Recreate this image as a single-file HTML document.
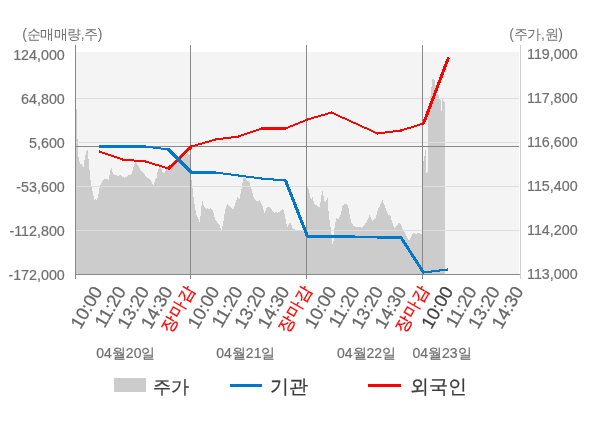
<!DOCTYPE html>
<html><head><meta charset="utf-8"><style>
html,body{margin:0;padding:0;background:#fff;width:600px;height:428px;overflow:hidden}
svg{display:block;font-family:"Liberation Sans",sans-serif;will-change:transform}
</style></head><body>
<svg width="600" height="428" viewBox="0 0 600 428">
<rect x="76" y="52" width="443" height="222" fill="#f4f4f4"/>
<path d="M76,274 L76,109 L77,109 L77.2,129 L77.8,148 L78.2,155.5 L79.6,163 L81.7,164.6 L83.5,166.7 L85.2,156 L87.3,148.5 L88.7,160.4 L90.1,177.3 L91.5,187 L92.9,192.7 L94.3,200.4 L95.7,199 L97.1,200.4 L98.5,194 L99.9,185.7 L102,182.2 L103.5,180 L104.9,178.7 L107,178.7 L108.4,180.8 L109.8,173 L111.2,167.4 L112.6,172.3 L114,174.5 L116,175.2 L118.2,175.9 L120.3,175.2 L122.4,176.6 L124.5,178 L126.6,176.6 L128.7,175.2 L130.8,175.2 L132.1,172.3 L134.2,164.6 L135.6,161.8 L137,164 L139.1,167.4 L141.2,171 L144,173 L146.1,176.6 L148.2,178 L150.3,180 L152.4,184.3 L153.8,185 L155.2,179.4 L156.6,178 L158,169.5 L159.5,167.4 L161.6,169.5 L163,173 L164.5,173 L165.8,170.2 L167.2,168 L170,166 L174,162 L178,158 L182,156 L185,155 L187,153 L189,155 L190,156 L191,175 L192.9,191.8 L194.3,203 L196.4,214.3 L198.5,218.5 L199.9,222.7 L201.3,207.3 L202.3,200.2 L203.4,205.2 L204.8,208 L206.2,208.7 L207.6,208 L209,209.4 L211.1,208 L212.5,210 L214,215 L215.3,219.9 L217.5,222.7 L219.6,224.8 L221.4,230.4 L223.1,223.4 L224.5,214.3 L225.9,207.3 L227.3,203.8 L228.7,205.2 L230.1,206.6 L232.2,209.4 L233.6,208.7 L235,204.5 L236.4,200.2 L237.8,196 L239.2,200.2 L240.6,193.2 L242,186.2 L243.4,177.8 L245.5,178.5 L247.6,181 L249.6,182 L251,187.6 L252.4,192.5 L253.8,198.2 L255.2,200.3 L257.3,201 L259.4,200.3 L260.8,202.4 L262.2,205.2 L263.6,210 L264.8,214.3 L266.2,208.7 L267.8,206.6 L269.2,206.6 L271.3,208.7 L273.5,212.2 L274.9,212.9 L276.3,211.5 L277.7,212.9 L279.8,211.5 L281.9,210 L283.3,208.7 L284.7,214.3 L286.1,222.7 L287.5,226.9 L288.9,224.1 L290.3,222 L291.7,225.5 L293,229 L296,230 L299,231.5 L301,230 L306,230 L307.5,186.8 L308.9,189.6 L310.3,198 L311.7,198.8 L312.7,196.6 L313.8,203 L315.2,204.4 L316.6,205 L318,206.5 L319.4,207.9 L320.8,200.2 L322.2,189 L323.6,196.6 L325,203.7 L326.4,200.2 L327.6,197.3 L328.5,210.7 L329.9,223.3 L331.3,232 L332.4,244 L333.4,244 L334,231.5 L335.2,222.7 L336.6,218.1 L338.4,219 L340.5,214.9 L342.6,205.8 L344.7,203.7 L346.8,204.4 L348.2,206.5 L349.6,214.9 L351,221.9 L353.1,225.4 L355.2,226.8 L357.3,226.8 L359.4,226.8 L361.4,227.9 L362.8,226.5 L364.2,225 L366.3,222.3 L367.7,219.5 L369.5,215.2 L371.2,218 L372.6,220.9 L374,219.5 L375.4,218.8 L376.8,213.8 L378.2,208.2 L379.6,206.8 L381,202.6 L382.4,199.8 L383.8,203.3 L385.2,206.8 L386.6,211 L388,214.5 L390.2,215.2 L391.6,220.2 L393,224.4 L394.4,227.9 L395.8,227.2 L397.2,225 L399.3,222.3 L400.7,224.4 L402.1,227.9 L403.5,230.7 L404.9,232.1 L406.3,236 L408.4,240 L409.5,240 L410.5,238.4 L411.9,234.9 L413.3,232.8 L414,233 L415.4,234 L416.8,233.7 L418.2,233 L420.3,233.7 L422,233.5 L423,161 L424,161 L425,152 L426,148 L426.5,173 L427.5,173 L428,118 L429,112 L430,96 L431,95 L432,79 L434.4,79 L435.5,86 L436.5,92 L437.3,94 L438.4,95 L439.6,99 L440.8,100 L441.5,111 L442,99 L443.1,100 L444.3,102 L445,103 L445.5,274 Z" fill="#cccccc" shape-rendering="crispEdges"/>
<rect x="76" y="98" width="443" height="1" fill="#dedede"/><rect x="76" y="142" width="443" height="1" fill="#dedede"/><rect x="76" y="186" width="443" height="1" fill="#dedede"/><rect x="76" y="230" width="443" height="1" fill="#dedede"/>
<rect x="76" y="146" width="443" height="1" fill="#888888"/>
<g fill="#888888">
<rect x="75" y="45" width="1" height="234"/>
<rect x="190" y="45" width="1" height="234"/>
<rect x="306" y="45" width="1" height="234"/>
<rect x="422" y="45" width="1" height="234"/>
<rect x="75" y="274" width="445" height="1"/>
</g>
<rect x="520" y="45" width="1" height="234" fill="#cfcfcf"/>
<g shape-rendering="crispEdges">
<path d="M447 57h2v1h-2zM447 58h3v1h-3zM446 59h3v1h-3zM446 60h3v1h-3zM445 61h4v1h-4zM445 62h3v1h-3zM445 63h3v1h-3zM444 64h3v1h-3zM444 65h3v1h-3zM443 66h4v1h-4zM443 67h3v1h-3zM443 68h3v1h-3zM442 69h4v1h-4zM442 70h3v1h-3zM442 71h3v1h-3zM441 72h3v1h-3zM441 73h3v1h-3zM440 74h4v1h-4zM440 75h3v1h-3zM440 76h3v1h-3zM439 77h4v1h-4zM439 78h3v1h-3zM439 79h3v1h-3zM438 80h3v1h-3zM438 81h3v1h-3zM437 82h4v1h-4zM437 83h3v1h-3zM437 84h3v1h-3zM436 85h3v1h-3zM436 86h3v1h-3zM436 87h3v1h-3zM435 88h3v1h-3zM435 89h3v1h-3zM434 90h4v1h-4zM434 91h3v1h-3zM434 92h3v1h-3zM433 93h3v1h-3zM433 94h3v1h-3zM433 95h3v1h-3zM432 96h3v1h-3zM432 97h3v1h-3zM431 98h4v1h-4zM431 99h3v1h-3zM431 100h3v1h-3zM430 101h3v1h-3zM430 102h3v1h-3zM429 103h4v1h-4zM429 104h3v1h-3zM429 105h3v1h-3zM428 106h4v1h-4zM428 107h3v1h-3zM428 108h3v1h-3zM427 109h3v1h-3zM427 110h3v1h-3zM331 111h1v1h-1zM426 111h4v1h-4zM328 112h6v1h-6zM426 112h3v1h-3zM325 113h11v1h-11zM426 113h3v1h-3zM321 114h7v1h-7zM334 114h4v1h-4zM425 114h4v1h-4zM318 115h7v1h-7zM336 115h4v1h-4zM425 115h3v1h-3zM314 116h7v1h-7zM338 116h4v1h-4zM425 116h3v1h-3zM311 117h7v1h-7zM340 117h5v1h-5zM424 117h3v1h-3zM307 118h7v1h-7zM342 118h5v1h-5zM424 118h3v1h-3zM305 119h6v1h-6zM345 119h4v1h-4zM423 119h4v1h-4zM303 120h5v1h-5zM347 120h4v1h-4zM423 120h3v1h-3zM300 121h5v1h-5zM349 121h4v1h-4zM423 121h3v1h-3zM298 122h5v1h-5zM351 122h5v1h-5zM422 122h3v1h-3zM295 123h5v1h-5zM353 123h5v1h-5zM420 123h5v1h-5zM293 124h5v1h-5zM356 124h4v1h-4zM417 124h7v1h-7zM290 125h5v1h-5zM358 125h4v1h-4zM414 125h6v1h-6zM288 126h5v1h-5zM360 126h4v1h-4zM411 126h6v1h-6zM261 127h29v1h-29zM362 127h5v1h-5zM407 127h7v1h-7zM259 128h29v1h-29zM364 128h5v1h-5zM404 128h7v1h-7zM256 129h30v1h-30zM367 129h4v1h-4zM400 129h7v1h-7zM253 130h6v1h-6zM369 130h4v1h-4zM393 130h11v1h-11zM250 131h6v1h-6zM371 131h4v1h-4zM385 131h17v1h-17zM247 132h6v1h-6zM373 132h20v1h-20zM244 133h6v1h-6zM375 133h10v1h-10zM241 134h6v1h-6zM377 134h1v1h-1zM238 135h6v1h-6zM231 136h10v1h-10zM223 137h16v1h-16zM215 138h16v1h-16zM212 139h11v1h-11zM209 140h7v1h-7zM205 141h7v1h-7zM202 142h7v1h-7zM198 143h7v1h-7zM195 144h7v1h-7zM190 145h8v1h-8zM189 146h6v1h-6zM188 147h4v1h-4zM187 148h5v1h-5zM186 149h5v1h-5zM99 150h1v1h-1zM185 150h4v1h-4zM99 151h3v1h-3zM184 151h4v1h-4zM99 152h6v1h-6zM183 152h4v1h-4zM102 153h6v1h-6zM182 153h4v1h-4zM105 154h6v1h-6zM181 154h4v1h-4zM108 155h6v1h-6zM180 155h4v1h-4zM111 156h6v1h-6zM179 156h4v1h-4zM114 157h6v1h-6zM178 157h4v1h-4zM117 158h6v1h-6zM177 158h4v1h-4zM120 159h14v1h-14zM176 159h4v1h-4zM122 160h24v1h-24zM175 160h4v1h-4zM134 161h15v1h-15zM174 161h4v1h-4zM145 162h7v1h-7zM173 162h4v1h-4zM149 163h6v1h-6zM172 163h4v1h-4zM152 164h7v1h-7zM171 164h4v1h-4zM155 165h7v1h-7zM169 165h5v1h-5zM159 166h6v1h-6zM168 166h5v1h-5zM162 167h10v1h-10zM165 168h6v1h-6zM168 169h2v1h-2z" fill="#ff0000"/>
<path d="M99 145h47v1h-47zM99 146h54v1h-54zM99 147h62v1h-62zM153 148h17v1h-17zM161 149h10v1h-10zM167 150h5v1h-5zM168 151h5v1h-5zM169 152h5v1h-5zM170 153h5v1h-5zM171 154h5v1h-5zM172 155h5v1h-5zM173 156h5v1h-5zM174 157h5v1h-5zM175 158h5v1h-5zM176 159h5v1h-5zM177 160h5v1h-5zM178 161h5v1h-5zM179 162h5v1h-5zM180 163h5v1h-5zM181 164h5v1h-5zM182 165h5v1h-5zM183 166h5v1h-5zM184 167h5v1h-5zM185 168h5v1h-5zM186 169h5v1h-5zM187 170h5v1h-5zM188 171h28v1h-28zM189 172h34v1h-34zM190 173h41v1h-41zM223 174h16v1h-16zM231 175h15v1h-15zM238 176h16v1h-16zM246 177h16v1h-16zM254 178h20v1h-20zM261 179h25v1h-25zM273 180h14v1h-14zM284 181h4v1h-4zM285 182h3v1h-3zM285 183h3v1h-3zM285 184h4v1h-4zM286 185h3v1h-3zM286 186h3v1h-3zM287 187h3v1h-3zM287 188h3v1h-3zM287 189h4v1h-4zM288 190h3v1h-3zM288 191h3v1h-3zM289 192h3v1h-3zM289 193h3v1h-3zM289 194h4v1h-4zM290 195h3v1h-3zM290 196h3v1h-3zM291 197h3v1h-3zM291 198h3v1h-3zM291 199h4v1h-4zM292 200h3v1h-3zM292 201h3v1h-3zM293 202h3v1h-3zM293 203h3v1h-3zM293 204h4v1h-4zM294 205h3v1h-3zM294 206h3v1h-3zM294 207h4v1h-4zM295 208h3v1h-3zM295 209h4v1h-4zM296 210h3v1h-3zM296 211h3v1h-3zM296 212h4v1h-4zM297 213h3v1h-3zM297 214h3v1h-3zM298 215h3v1h-3zM298 216h3v1h-3zM298 217h4v1h-4zM299 218h3v1h-3zM299 219h3v1h-3zM300 220h3v1h-3zM300 221h3v1h-3zM300 222h4v1h-4zM301 223h3v1h-3zM301 224h3v1h-3zM302 225h3v1h-3zM302 226h3v1h-3zM302 227h4v1h-4zM303 228h3v1h-3zM303 229h3v1h-3zM304 230h3v1h-3zM304 231h3v1h-3zM304 232h4v1h-4zM305 233h3v1h-3zM305 234h3v1h-3zM305 235h50v1h-50zM306 236h96v1h-96zM307 237h96v1h-96zM377 238h26v1h-26zM401 239h3v1h-3zM401 240h4v1h-4zM402 241h3v1h-3zM402 242h4v1h-4zM403 243h4v1h-4zM404 244h3v1h-3zM404 245h4v1h-4zM405 246h4v1h-4zM406 247h3v1h-3zM406 248h4v1h-4zM407 249h3v1h-3zM408 250h3v1h-3zM408 251h4v1h-4zM409 252h3v1h-3zM410 253h3v1h-3zM410 254h4v1h-4zM411 255h3v1h-3zM411 256h4v1h-4zM412 257h4v1h-4zM413 258h3v1h-3zM413 259h4v1h-4zM414 260h4v1h-4zM415 261h3v1h-3zM415 262h4v1h-4zM416 263h3v1h-3zM417 264h3v1h-3zM417 265h4v1h-4zM418 266h3v1h-3zM419 267h3v1h-3zM419 268h4v1h-4zM447 268h1v1h-1zM420 269h3v1h-3zM439 269h9v1h-9zM420 270h4v1h-4zM431 270h17v1h-17zM421 271h19v1h-19zM422 272h10v1h-10zM423 273h1v1h-1z" fill="#0077c8"/>
</g>
<g font-size="14.3" fill="#6f6f6f" stroke="#6f6f6f" stroke-width="0.2"><text transform="translate(64.8,59.6) scale(1,1.06)" text-anchor="end">124,000</text><text transform="translate(64.8,103.6) scale(1,1.06)" text-anchor="end">64,800</text><text transform="translate(64.8,147.6) scale(1,1.06)" text-anchor="end">5,600</text><text transform="translate(64.8,191.6) scale(1,1.06)" text-anchor="end">-53,600</text><text transform="translate(64.8,235.6) scale(1,1.06)" text-anchor="end">-112,800</text><text transform="translate(64.8,279.6) scale(1,1.06)" text-anchor="end">-172,000</text><text transform="translate(527,59.2) scale(1,1.06)">119,000</text><text transform="translate(527,103.2) scale(1,1.06)">117,800</text><text transform="translate(527,147.2) scale(1,1.06)">116,600</text><text transform="translate(527,191.2) scale(1,1.06)">115,400</text><text transform="translate(527,235.2) scale(1,1.06)">114,200</text><text transform="translate(527,279.2) scale(1,1.06)">113,000</text></g>
<g font-size="14" fill="#6f6f6f">
<text x="22.3" y="39" letter-spacing="-0.45">(순매매량,주)</text>
<text x="509.3" y="39" letter-spacing="-0.3">(주가,원)</text>
</g>
<g font-size="18" stroke-width="0.25" style="paint-order:normal"><text transform="translate(103.00,291) rotate(-60)" text-anchor="end" fill="#666" stroke="#666">10:00</text><text transform="translate(126.39,291) rotate(-60)" text-anchor="end" fill="#666" stroke="#666">11:20</text><text transform="translate(149.78,291) rotate(-60)" text-anchor="end" fill="#666" stroke="#666">13:20</text><text transform="translate(173.17,291) rotate(-60)" text-anchor="end" fill="#666" stroke="#666">14:30</text><text transform="translate(195.46,289.5) rotate(-60)" text-anchor="end" fill="#ff0000" stroke="#ff0000" font-size="16.5">장마감</text><text transform="translate(219.95,291) rotate(-60)" text-anchor="end" fill="#666" stroke="#666">10:00</text><text transform="translate(243.34,291) rotate(-60)" text-anchor="end" fill="#666" stroke="#666">11:20</text><text transform="translate(266.73,291) rotate(-60)" text-anchor="end" fill="#666" stroke="#666">13:20</text><text transform="translate(290.12,291) rotate(-60)" text-anchor="end" fill="#666" stroke="#666">14:30</text><text transform="translate(312.41,289.5) rotate(-60)" text-anchor="end" fill="#ff0000" stroke="#ff0000" font-size="16.5">장마감</text><text transform="translate(336.90,291) rotate(-60)" text-anchor="end" fill="#666" stroke="#666">10:00</text><text transform="translate(360.29,291) rotate(-60)" text-anchor="end" fill="#666" stroke="#666">11:20</text><text transform="translate(383.68,291) rotate(-60)" text-anchor="end" fill="#666" stroke="#666">13:20</text><text transform="translate(407.07,291) rotate(-60)" text-anchor="end" fill="#666" stroke="#666">14:30</text><text transform="translate(429.36,289.5) rotate(-60)" text-anchor="end" fill="#ff0000" stroke="#ff0000" font-size="16.5">장마감</text><text transform="translate(453.85,291) rotate(-60)" text-anchor="end" fill="#404040" stroke="#404040">10:00</text><text transform="translate(477.24,291) rotate(-60)" text-anchor="end" fill="#666" stroke="#666">11:20</text><text transform="translate(500.63,291) rotate(-60)" text-anchor="end" fill="#666" stroke="#666">13:20</text><text transform="translate(524.02,291) rotate(-60)" text-anchor="end" fill="#666" stroke="#666">14:30</text></g>
<g font-size="14" fill="#6f6f6f" stroke="#6f6f6f" stroke-width="0.2"><text x="96.3" y="357.5">04월20일</text><text x="216.3" y="357.5">04월21일</text><text x="337" y="357.5">04월22일</text><text x="412.5" y="357.5">04월23일</text></g>
<rect x="114" y="378" width="32" height="14" fill="#cccccc"/>
<rect x="230" y="384" width="32" height="3" fill="#0077c8"/>
<rect x="368" y="384" width="33" height="3" fill="#ff0000"/>
<g font-size="18" fill="#3c3c3c" stroke="#3c3c3c" stroke-width="0.3">
<text x="152.5" y="392.5">주가</text>
<text x="270" y="392.5" font-size="18.5">기관</text>
<text x="410" y="392.5" font-size="18.5">외국인</text>
</g>
</svg>
</body></html>
